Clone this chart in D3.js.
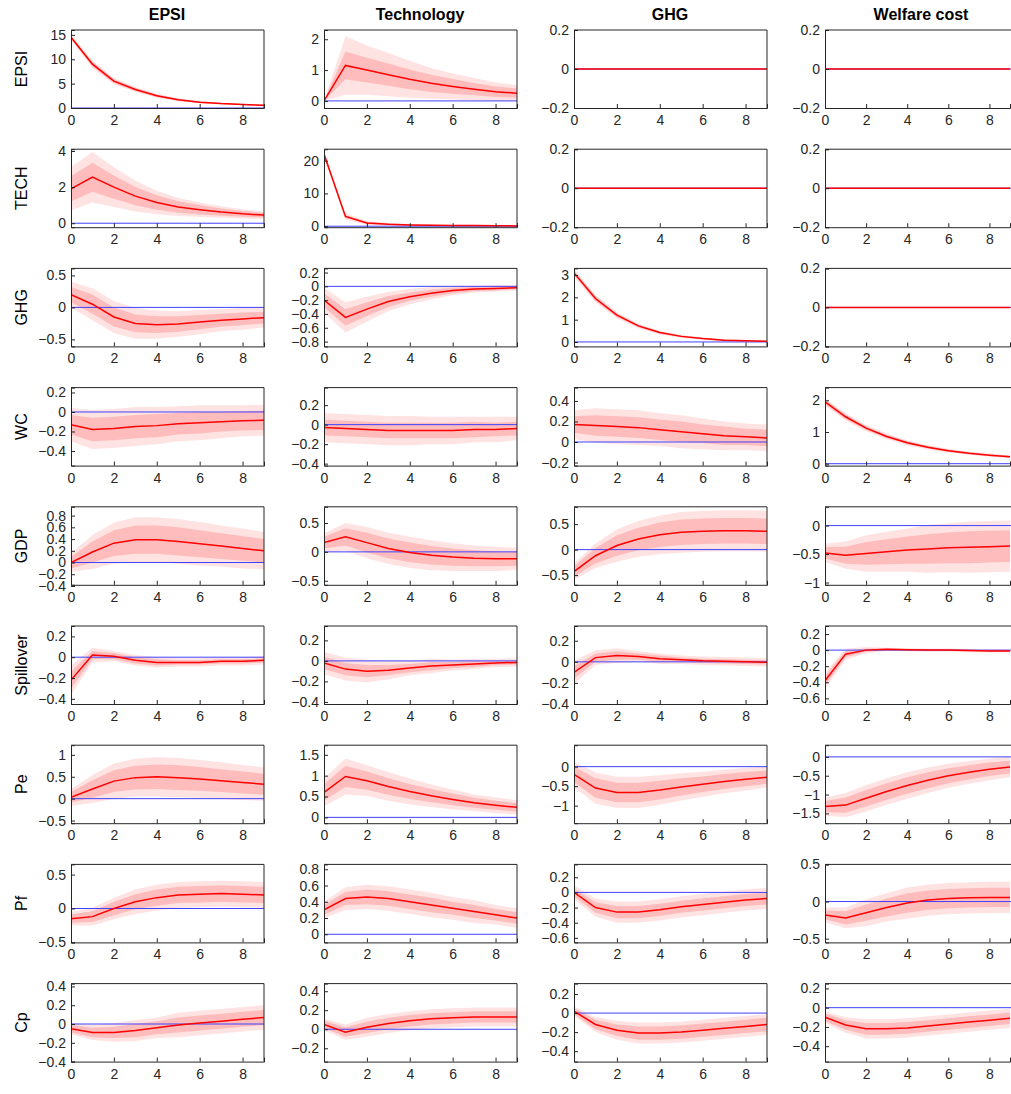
<!DOCTYPE html>
<html><head><meta charset="utf-8">
<script src="https://d3js.org/d3.v7.min.js"></script>
<style>body{margin:0;background:#fff}svg{font-family:"Liberation Sans",Arial,sans-serif}</style>
</head><body><div id="c"></div>
<script>
const colTitles=["EPSI","Technology","GHG","Welfare cost"];
const rowNames=["EPSI","TECH","GHG","WC","GDP","Spillover","Pe","Pf","Cp"];
const horizon=[0,1,2,3,4,5,6,7,8,9];
const xTicks=[0,2,4,6,8];
const Z=[0,0,0,0,0,0,0,0,0,0];
// each plot: dom (y range), ticks, m (median), w1 (68% half-width), w2 (90% half-width)
const P=[
[{dom:[0,16],ticks:[0,5,10,15],m:[14.5,9,5.5,3.8,2.5,1.7,1.2,0.9,0.7,0.55],w1:[0.3,0.5,0.4,0.3,0.25,0.2,0.15,0.12,0.1,0.08],w2:[0.5,0.8,0.65,0.5,0.4,0.32,0.25,0.2,0.16,0.13]},
 {dom:[-0.23,2.3],ticks:[0,1,2],m:[0,1.15,1.0,0.85,0.7,0.57,0.47,0.38,0.3,0.25],w1:[0,0.45,0.4,0.36,0.32,0.28,0.24,0.2,0.17,0.15],w2:[0,0.95,0.8,0.7,0.6,0.5,0.42,0.36,0.3,0.26]},
 {dom:[-0.2,0.2],ticks:[-0.2,0,0.2],m:Z,w1:Z,w2:Z},
 {dom:[-0.2,0.2],ticks:[-0.2,0,0.2],m:Z,w1:Z,w2:Z}],
[{dom:[-0.22,4.1],ticks:[0,2,4],m:[1.9,2.55,2.0,1.5,1.15,0.9,0.75,0.62,0.52,0.45],w1:[0.7,0.8,0.65,0.5,0.4,0.32,0.26,0.2,0.16,0.13],w2:[1.2,1.4,1.1,0.85,0.65,0.5,0.4,0.32,0.26,0.2]},
 {dom:[-0.3,23.5],ticks:[0,10,20],m:[22,3,1,0.6,0.4,0.3,0.25,0.2,0.15,0.1],w1:[0.4,0.5,0.3,0.2,0.15,0.1,0.08,0.06,0.05,0.04],w2:[0.8,1,0.6,0.4,0.3,0.2,0.15,0.12,0.1,0.08]},
 {dom:[-0.2,0.2],ticks:[-0.2,0,0.2],m:Z,w1:Z,w2:Z},
 {dom:[-0.2,0.2],ticks:[-0.2,0,0.2],m:Z,w1:Z,w2:Z}],
[{dom:[-0.61,0.61],ticks:[-0.5,0,0.5],m:[0.2,0.05,-0.15,-0.25,-0.27,-0.26,-0.23,-0.2,-0.18,-0.16],w1:[0.12,0.15,0.15,0.14,0.13,0.12,0.11,0.1,0.1,0.09],w2:[0.2,0.25,0.25,0.24,0.22,0.2,0.19,0.17,0.17,0.15]},
 {dom:[-0.87,0.26],ticks:[-0.8,-0.6,-0.4,-0.2,0,0.2],m:[-0.2,-0.45,-0.33,-0.22,-0.15,-0.1,-0.06,-0.04,-0.03,-0.02],w1:[0.1,0.12,0.1,0.08,0.06,0.05,0.04,0.03,0.03,0.02],w2:[0.18,0.22,0.18,0.14,0.11,0.09,0.07,0.05,0.05,0.04]},
 {dom:[-0.2,3.3],ticks:[0,1,2,3],m:[3.1,1.95,1.2,0.72,0.42,0.25,0.15,0.08,0.05,0.03],w1:[0.1,0.1,0.08,0.06,0.05,0.04,0.03,0.03,0.02,0.02],w2:[0.17,0.17,0.14,0.1,0.08,0.07,0.05,0.05,0.04,0.03]},
 {dom:[-0.2,0.2],ticks:[-0.2,0,0.2],m:Z,w1:Z,w2:Z}],
[{dom:[-0.55,0.25],ticks:[-0.4,-0.2,0,0.2],m:[-0.13,-0.18,-0.17,-0.15,-0.14,-0.12,-0.11,-0.1,-0.09,-0.085],w1:[0.1,0.12,0.12,0.12,0.12,0.11,0.11,0.1,0.1,0.1],w2:[0.17,0.2,0.2,0.2,0.19,0.18,0.18,0.17,0.16,0.16]},
 {dom:[-0.42,0.38],ticks:[-0.4,-0.2,0,0.2],m:[-0.03,-0.04,-0.05,-0.06,-0.06,-0.06,-0.06,-0.05,-0.05,-0.04],w1:[0.08,0.08,0.08,0.08,0.08,0.08,0.08,0.08,0.07,0.07],w2:[0.15,0.15,0.15,0.15,0.15,0.14,0.14,0.13,0.13,0.12]},
 {dom:[-0.23,0.53],ticks:[-0.2,0,0.2,0.4],m:[0.17,0.16,0.15,0.14,0.12,0.1,0.08,0.06,0.05,0.04],w1:[0.08,0.1,0.1,0.1,0.1,0.1,0.09,0.09,0.08,0.08],w2:[0.14,0.17,0.17,0.17,0.16,0.16,0.15,0.14,0.13,0.13]},
 {dom:[-0.06,2.4],ticks:[0,1,2],m:[1.95,1.48,1.12,0.86,0.66,0.52,0.41,0.33,0.27,0.22],w1:[0.07,0.07,0.06,0.05,0.05,0.04,0.04,0.03,0.03,0.03],w2:[0.12,0.12,0.1,0.09,0.08,0.07,0.06,0.05,0.05,0.05]}],
[{dom:[-0.38,0.95],ticks:[-0.4,-0.2,0,0.2,0.4,0.6,0.8],m:[0,0.18,0.33,0.39,0.39,0.36,0.32,0.28,0.24,0.2],w1:[0.1,0.18,0.22,0.24,0.24,0.24,0.23,0.22,0.21,0.2],w2:[0.16,0.29,0.35,0.38,0.38,0.38,0.37,0.35,0.34,0.32]},
 {dom:[-0.57,0.78],ticks:[-0.5,0,0.5],m:[0.16,0.26,0.16,0.06,-0.01,-0.06,-0.09,-0.11,-0.12,-0.12],w1:[0.1,0.15,0.17,0.17,0.17,0.16,0.15,0.14,0.13,0.12],w2:[0.16,0.24,0.27,0.27,0.27,0.26,0.24,0.22,0.21,0.19]},
 {dom:[-0.69,0.84],ticks:[-0.5,0,0.5],m:[-0.43,-0.12,0.08,0.21,0.29,0.34,0.36,0.37,0.37,0.36],w1:[0.1,0.15,0.2,0.22,0.24,0.25,0.25,0.25,0.25,0.25],w2:[0.16,0.24,0.32,0.35,0.38,0.4,0.4,0.4,0.4,0.4]},
 {dom:[-1.04,0.33],ticks:[-1,-0.5,0],m:[-0.48,-0.52,-0.49,-0.46,-0.43,-0.41,-0.39,-0.38,-0.37,-0.36],w1:[0.1,0.15,0.2,0.22,0.24,0.26,0.27,0.28,0.28,0.28],w2:[0.16,0.24,0.32,0.35,0.38,0.42,0.43,0.45,0.45,0.45]}],
[{dom:[-0.45,0.3],ticks:[-0.4,-0.2,0,0.2],m:[-0.22,0.02,0.01,-0.03,-0.05,-0.05,-0.05,-0.04,-0.04,-0.03],w1:[0.08,0.04,0.03,0.03,0.03,0.02,0.02,0.02,0.02,0.02],w2:[0.14,0.07,0.05,0.05,0.05,0.04,0.04,0.04,0.04,0.04]},
 {dom:[-0.42,0.34],ticks:[-0.4,-0.2,0,0.2],m:[-0.02,-0.08,-0.1,-0.09,-0.07,-0.05,-0.04,-0.03,-0.02,-0.015],w1:[0.06,0.06,0.06,0.05,0.04,0.04,0.03,0.03,0.02,0.02],w2:[0.11,0.11,0.11,0.09,0.07,0.07,0.05,0.05,0.04,0.04]},
 {dom:[-0.4,0.34],ticks:[-0.4,-0.2,0,0.2],m:[-0.1,0.04,0.06,0.05,0.03,0.02,0.01,0.005,0,-0.005],w1:[0.06,0.04,0.04,0.03,0.03,0.02,0.02,0.02,0.02,0.02],w2:[0.11,0.07,0.07,0.05,0.05,0.04,0.04,0.04,0.04,0.04]},
 {dom:[-0.67,0.3],ticks:[-0.6,-0.4,-0.2,0,0.2],m:[-0.38,-0.05,0,0.01,0.005,0,0,-0.005,-0.01,-0.01],w1:[0.06,0.04,0.02,0.01,0.01,0.01,0.01,0.01,0.01,0.01],w2:[0.1,0.07,0.04,0.02,0.02,0.02,0.02,0.02,0.02,0.02]}],
[{dom:[-0.56,1.22],ticks:[-0.5,0,0.5,1],m:[0.03,0.22,0.4,0.48,0.5,0.48,0.45,0.41,0.37,0.33],w1:[0.12,0.2,0.25,0.27,0.28,0.28,0.27,0.26,0.25,0.24],w2:[0.19,0.32,0.4,0.43,0.45,0.45,0.43,0.42,0.4,0.38]},
 {dom:[-0.14,1.73],ticks:[0,0.5,1,1.5],m:[0.6,0.98,0.88,0.74,0.62,0.52,0.43,0.35,0.29,0.24],w1:[0.2,0.25,0.22,0.2,0.18,0.16,0.14,0.12,0.11,0.1],w2:[0.34,0.43,0.37,0.34,0.31,0.27,0.24,0.2,0.19,0.17]},
 {dom:[-1.45,0.55],ticks:[-1,-0.5,0],m:[-0.2,-0.55,-0.66,-0.66,-0.6,-0.52,-0.45,-0.38,-0.32,-0.27],w1:[0.2,0.25,0.25,0.25,0.24,0.22,0.2,0.19,0.18,0.17],w2:[0.32,0.4,0.4,0.4,0.38,0.35,0.32,0.3,0.29,0.27]},
 {dom:[-1.76,0.31],ticks:[-1.5,-1,-0.5,0],m:[-1.32,-1.28,-1.1,-0.92,-0.76,-0.62,-0.5,-0.41,-0.33,-0.27],w1:[0.15,0.2,0.22,0.22,0.22,0.21,0.2,0.19,0.18,0.17],w2:[0.24,0.32,0.35,0.35,0.35,0.34,0.32,0.3,0.29,0.27]}],
[{dom:[-0.5,0.65],ticks:[-0.5,0,0.5],m:[-0.15,-0.12,0,0.1,0.16,0.2,0.21,0.22,0.21,0.2],w1:[0.06,0.08,0.1,0.11,0.12,0.12,0.12,0.12,0.12,0.12],w2:[0.1,0.13,0.16,0.18,0.19,0.19,0.19,0.19,0.19,0.19]},
 {dom:[-0.1,0.86],ticks:[0,0.2,0.4,0.6,0.8],m:[0.3,0.44,0.46,0.44,0.4,0.36,0.32,0.28,0.24,0.2],w1:[0.06,0.08,0.09,0.09,0.09,0.09,0.08,0.08,0.07,0.07],w2:[0.1,0.14,0.15,0.15,0.15,0.15,0.14,0.14,0.12,0.12]},
 {dom:[-0.66,0.37],ticks:[-0.6,-0.4,-0.2,0,0.2],m:[0,-0.2,-0.26,-0.26,-0.23,-0.19,-0.16,-0.13,-0.1,-0.08],w1:[0.05,0.07,0.08,0.08,0.08,0.08,0.08,0.08,0.08,0.08],w2:[0.09,0.12,0.14,0.14,0.14,0.14,0.14,0.14,0.14,0.14]},
 {dom:[-0.55,0.5],ticks:[-0.5,0,0.5],m:[-0.18,-0.22,-0.15,-0.08,-0.02,0.02,0.04,0.05,0.055,0.055],w1:[0.06,0.09,0.11,0.12,0.13,0.13,0.13,0.13,0.13,0.13],w2:[0.1,0.14,0.18,0.19,0.21,0.21,0.21,0.21,0.21,0.21]}],
[{dom:[-0.4,0.43],ticks:[-0.4,-0.2,0,0.2,0.4],m:[-0.05,-0.09,-0.09,-0.07,-0.04,-0.01,0.01,0.03,0.05,0.07],w1:[0.04,0.05,0.06,0.07,0.07,0.08,0.08,0.08,0.08,0.08],w2:[0.06,0.08,0.1,0.11,0.11,0.13,0.13,0.13,0.13,0.13]},
 {dom:[-0.34,0.48],ticks:[-0.2,0,0.2,0.4],m:[0.05,-0.03,0.02,0.06,0.09,0.11,0.12,0.13,0.13,0.13],w1:[0.04,0.05,0.06,0.06,0.06,0.06,0.06,0.06,0.06,0.06],w2:[0.06,0.08,0.1,0.1,0.1,0.1,0.1,0.1,0.1,0.1]},
 {dom:[-0.51,0.31],ticks:[-0.4,-0.2,0,0.2],m:[0.02,-0.12,-0.18,-0.21,-0.21,-0.2,-0.18,-0.16,-0.14,-0.12],w1:[0.03,0.05,0.06,0.07,0.07,0.07,0.07,0.07,0.07,0.07],w2:[0.05,0.08,0.1,0.11,0.11,0.11,0.11,0.11,0.11,0.11]},
 {dom:[-0.56,0.25],ticks:[-0.4,-0.2,0,0.2],m:[-0.1,-0.18,-0.22,-0.22,-0.21,-0.19,-0.17,-0.15,-0.13,-0.11],w1:[0.04,0.05,0.06,0.06,0.06,0.06,0.06,0.06,0.06,0.06],w2:[0.06,0.08,0.1,0.1,0.1,0.1,0.1,0.1,0.1,0.1]}]
];
const W=1011,H=1094;
const colX=[71,324,574,825], colW=[193,193,193,186];
const rowY=i=>30+i*119.2, rowH=78;
const svg=d3.select("#c").append("svg").attr("width",W).attr("height",H);
colTitles.forEach((t,j)=>svg.append("text").attr("x",colX[j]+96).attr("y",20).attr("text-anchor","middle")
  .attr("font-weight","bold").attr("font-size",16).text(t));
const fmt=v=>d3.format("")(+v.toFixed(2));
P.forEach((row,i)=>{
  const y0=rowY(i);
  svg.append("text").attr("transform",`translate(27,${y0+rowH/2}) rotate(-90)`).attr("text-anchor","middle")
    .attr("font-size",16).text(rowNames[i]);
  row.forEach((p,j)=>{
    const x=d3.scaleLinear().domain([0,9]).range([colX[j],colX[j]+(colW[j]===186?185:193)]);
    const y=d3.scaleLinear().domain(p.dom).range([y0+rowH,y0]);
    const g=svg.append("g");
    const cid="cl"+i+"_"+j;
    svg.append("clipPath").attr("id",cid).append("rect").attr("x",colX[j]).attr("y",y0).attr("width",colW[j]).attr("height",rowH);
    const gc=g.append("g").attr("clip-path",`url(#${cid})`);
    const band=(w,c)=>gc.append("path").datum(horizon).attr("fill",c)
      .attr("d",d3.area().x(t=>x(t)).y0(t=>y(p.m[t]-w[t])).y1(t=>y(p.m[t]+w[t])));
    band(p.w2,"#ffe3e3"); band(p.w1,"#ffbcbc");
    gc.append("line").attr("x1",colX[j]).attr("x2",colX[j]+colW[j]).attr("y1",y(0)).attr("y2",y(0)).attr("stroke","#4040ff").attr("stroke-width",1);
    gc.append("path").datum(horizon).attr("fill","none").attr("stroke","#ff0000").attr("stroke-width",1.5)
      .attr("d",d3.line().x(t=>x(t)).y(t=>y(p.m[t])));
    const xa=g.append("g").attr("transform",`translate(0,${y0+rowH})`).call(d3.axisBottom(x).tickValues(xTicks).tickSize(-4).tickPadding(7).tickFormat(d3.format("d")));
    const ya=g.append("g").attr("transform",`translate(${colX[j]},0)`).call(d3.axisLeft(y).tickValues(p.ticks).tickSize(-4).tickPadding(5).tickFormat(fmt));
    [xa,ya].forEach(a=>{a.select(".domain").attr("stroke","#262626");a.selectAll("line").attr("stroke","#262626");
      a.selectAll("text").attr("font-size",14).attr("fill","#262626").attr("font-family","'Liberation Sans',Arial,sans-serif");});
    g.append("line").attr("x1",colX[j]).attr("x2",colX[j]+colW[j]).attr("y1",y0).attr("y2",y0).attr("stroke","#262626");
    if(j<3) g.append("line").attr("x1",colX[j]+colW[j]).attr("x2",colX[j]+colW[j]).attr("y1",y0).attr("y2",y0+rowH).attr("stroke","#262626");
  });
});
</script></body></html>
